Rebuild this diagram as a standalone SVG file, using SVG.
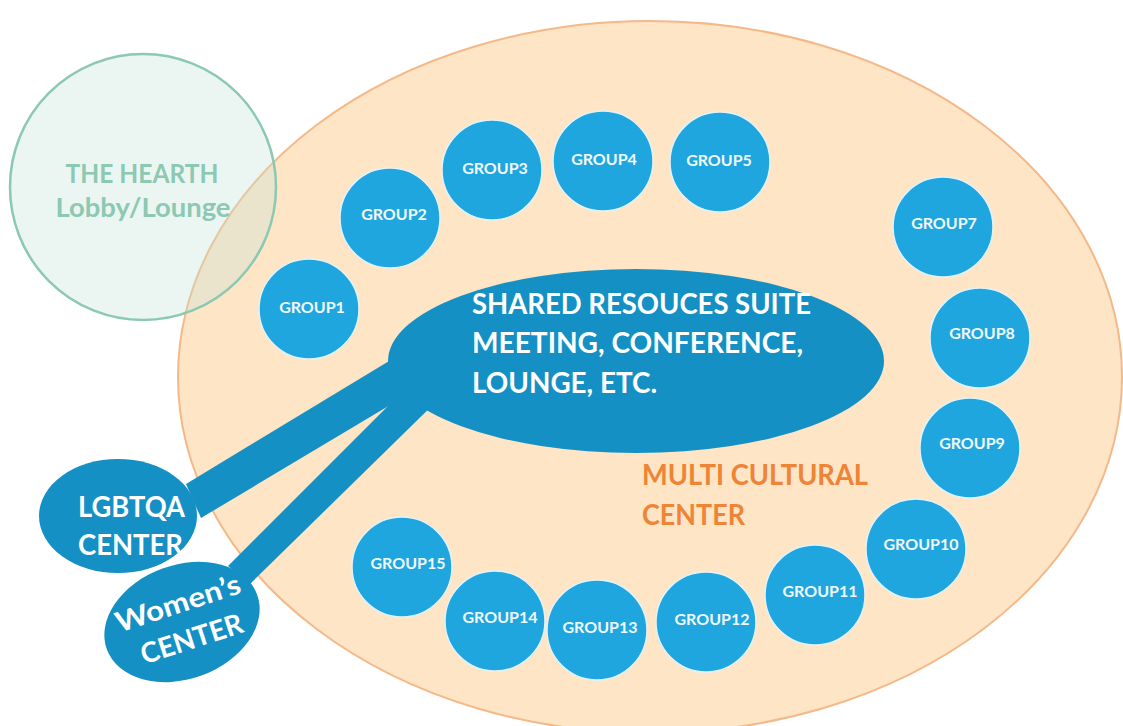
<svg xmlns="http://www.w3.org/2000/svg" width="1123" height="726" viewBox="0 0 1123 726">
  <style>
    .grp circle { fill: #1fa6df; stroke: #e3f2f8; stroke-width: 1.5; }
    .grp text { font-family: Lato, "Open Sans", sans-serif; font-weight: bold; font-size: 16px; fill: #f2f9fc; text-anchor: middle; }
    .dark { fill: #1590c4; }
    .wt { font-family: Lato, "Open Sans", sans-serif; font-weight: bold; fill: #ffffff; }
    .hearth-t { font-family: Lato, "Open Sans", sans-serif; font-weight: bold; fill: #8cc8b2; text-anchor: middle; font-size: 26px; }
    .mc-t { font-family: Lato, "Open Sans", sans-serif; font-weight: bold; fill: #ee8436; font-size: 28px; }
  </style>
  <rect width="1123" height="726" fill="#ffffff"/>

  <g id="multicultural-center">
    <ellipse cx="650" cy="377" rx="472" ry="356" fill="#fde5c6" stroke="#f4b889" stroke-width="2"/>
    <text class="mc-t" x="642" y="485" textLength="226" lengthAdjust="spacingAndGlyphs">MULTI CULTURAL</text>
    <text class="mc-t" x="642" y="525" textLength="103" lengthAdjust="spacingAndGlyphs">CENTER</text>
  </g>

  <g id="the-hearth">
    <circle cx="143" cy="187" r="133" fill="#c2e3d8" fill-opacity="0.32" stroke="#8cc8b2" stroke-width="2.5"/>
    <text class="hearth-t" x="142" y="183" textLength="153" lengthAdjust="spacingAndGlyphs">THE HEARTH</text>
    <text class="hearth-t" x="143" y="217" textLength="175" lengthAdjust="spacingAndGlyphs">Lobby/Lounge</text>
  </g>

  <g id="connectors">
    <polygon class="dark" points="186,484 201,518 422,386 404,352"/>
    <polygon class="dark" points="228,566 250,584 442,396 416,378"/>
  </g>

  <g id="shared-resources">
    <ellipse class="dark" cx="636" cy="361" rx="248" ry="92"/>
    <text class="wt" x="472" y="314" font-size="29" textLength="339" lengthAdjust="spacingAndGlyphs">SHARED RESOUCES SUITE</text>
    <text class="wt" x="472" y="353" font-size="29" textLength="331" lengthAdjust="spacingAndGlyphs">MEETING, CONFERENCE,</text>
    <text class="wt" x="472" y="393" font-size="29" textLength="185" lengthAdjust="spacingAndGlyphs">LOUNGE, ETC.</text>
  </g>

  <g id="lgbtqa-center">
    <ellipse class="dark" cx="118" cy="516" rx="79" ry="57"/>
    <text class="wt" x="78" y="517" font-size="28" textLength="107" lengthAdjust="spacingAndGlyphs">LGBTQA</text>
    <text class="wt" x="78" y="555" font-size="28" textLength="105" lengthAdjust="spacingAndGlyphs">CENTER</text>
  </g>

  <g id="womens-center">
    <ellipse class="dark" cx="182" cy="622" rx="80" ry="57" transform="rotate(-20 182 622)"/>
    <g transform="rotate(-18 185 625)">
      <text class="wt" x="185" y="612" font-size="28" text-anchor="middle" textLength="130" lengthAdjust="spacingAndGlyphs">Women’s</text>
      <text class="wt" x="187" y="650" font-size="28" text-anchor="middle" textLength="106" lengthAdjust="spacingAndGlyphs">CENTER</text>
    </g>
  </g>

  <g id="group1" class="grp"><circle cx="309" cy="309" r="50"/><text x="312" y="313">GROUP1</text></g>
  <g id="group2" class="grp"><circle cx="390" cy="218" r="50"/><text x="394" y="220">GROUP2</text></g>
  <g id="group3" class="grp"><circle cx="492" cy="170" r="50"/><text x="495" y="174">GROUP3</text></g>
  <g id="group4" class="grp"><circle cx="603" cy="161" r="50"/><text x="604" y="165">GROUP4</text></g>
  <g id="group5" class="grp"><circle cx="720" cy="162" r="50"/><text x="719" y="166">GROUP5</text></g>
  <g id="group7" class="grp"><circle cx="943" cy="227" r="50"/><text x="944" y="229">GROUP7</text></g>
  <g id="group8" class="grp"><circle cx="980" cy="338" r="50"/><text x="982" y="339">GROUP8</text></g>
  <g id="group9" class="grp"><circle cx="970" cy="448" r="50"/><text x="972" y="449">GROUP9</text></g>
  <g id="group10" class="grp"><circle cx="916" cy="549" r="50"/><text x="921" y="550">GROUP10</text></g>
  <g id="group11" class="grp"><circle cx="815" cy="595" r="50"/><text x="820" y="597">GROUP11</text></g>
  <g id="group12" class="grp"><circle cx="706" cy="622" r="50"/><text x="712" y="625">GROUP12</text></g>
  <g id="group13" class="grp"><circle cx="597" cy="630" r="50"/><text x="600" y="633">GROUP13</text></g>
  <g id="group14" class="grp"><circle cx="495" cy="621" r="50"/><text x="500" y="623">GROUP14</text></g>
  <g id="group15" class="grp"><circle cx="402" cy="567" r="50"/><text x="408" y="569">GROUP15</text></g>
</svg>
